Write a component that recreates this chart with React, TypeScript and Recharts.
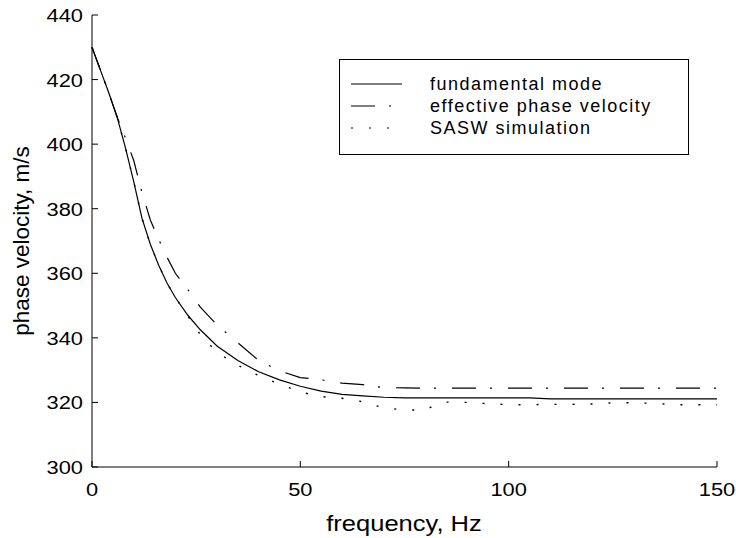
import React from 'react';
import { LineChart, Line, XAxis, YAxis, Legend } from 'recharts';

// frequency grid, Hz
const freq = [0, 2, 4, 6, 8, 10, 12, 14, 16, 18, 20, 23, 26, 30, 35, 40, 45, 50, 55, 60, 65, 70, 75, 80, 82, 85, 90, 95, 100, 105, 110, 115, 120, 125, 130, 135, 140, 145, 150];

// phase velocity, m/s
const fundamentalMode = [430, 423, 416, 408.5, 399, 388.5, 377, 369, 362.5, 357, 352.5, 347, 342.5, 337.5, 333, 329.5, 327, 325, 323.5, 322.5, 322, 321.6, 321.4, 321.4, 321.4, 321.4, 321.4, 321.4, 321.4, 321.4, 321.1, 321.1, 321.1, 321.1, 321.1, 321.1, 321.1, 321.1, 321.1];
const effectiveVelocity = [430, 423, 416, 408.5, 402, 395, 385, 376.5, 370.5, 365, 360, 355, 349.5, 344, 338.5, 333, 329.8, 327.7, 327, 326, 325.5, 324.6, 324.5, 324.4, 324.4, 324.4, 324.4, 324.4, 324.4, 324.4, 324.4, 324.4, 324.4, 324.4, 324.4, 324.4, 324.4, 324.4, 324.4];
const saswSimulation = [430, 423, 416, 408.5, 399, 388.5, 377, 369, 362.5, 357, 352.5, 346.8, 341, 335.5, 331.5, 328.3, 325.7, 323.2, 321.8, 321.3, 320.2, 318.3, 317.7, 317.6, 319, 320.1, 320, 319.6, 319.3, 319.3, 319.4, 319.4, 319.5, 319.9, 319.9, 319.7, 319.3, 319.3, 319.3];

const seriesNames = ['fundamental mode', 'effective phase velocity', 'SASW simulation'];
const xTicks = [0, 50, 100, 150];
const yTicks = [300, 320, 340, 360, 380, 400, 420, 440];

const data = freq.map((f, i) => ({
  f,
  fund: fundamentalMode[i],
  eff: effectiveVelocity[i],
  sasw: saswSimulation[i],
}));

const FONT = 'Arial, "Liberation Sans", Helvetica, sans-serif';
const SX = 1.15; // text in the original is drawn a little wide
const DASH_DOT = '24 14 2 16';
const DOTTED = '2 16';

function BottomTick({ x, y, payload }: any) {
  return (
    <g>
      <line x1={x} y1={y} x2={x} y2={y - 6} stroke="#000" />
      <text transform={`translate(${x},${y + 29}) scale(${SX},1)`} textAnchor="middle" fontSize={19} fontFamily={FONT} fill="#000">
        {payload.value}
      </text>
    </g>
  );
}

function TopTick({ x, y }: any) {
  return <line x1={x} y1={y} x2={x} y2={y + 6} stroke="#000" />;
}

function LeftTick({ x, y, payload }: any) {
  return (
    <g>
      <line x1={x} y1={y} x2={x + 6} y2={y} stroke="#000" />
      <text transform={`translate(${x - 9},${y + 7}) scale(${SX},1)`} textAnchor="end" fontSize={19} fontFamily={FONT} fill="#000">
        {payload.value}
      </text>
    </g>
  );
}

function RightTick({ x, y }: any) {
  return <line x1={x} y1={y} x2={x - 6} y2={y} stroke="#000" />;
}

function LegendBox() {
  const dashes = [undefined, DASH_DOT, DOTTED];
  return (
    <div style={{ position: 'relative', width: 350, height: 96, border: '1px solid #000', background: '#fff', boxSizing: 'border-box' }}>
      {seriesNames.map((name, i) => (
        <div key={name} style={{ position: 'absolute', left: 0, top: 13 + i * 22, height: 22, width: 348 }}>
          <svg width={80} height={22} style={{ position: 'absolute', left: 0, top: 0 }}>
            <line x1={11} x2={62} y1={11} y2={11} stroke="#000" strokeWidth={1.2} strokeDasharray={dashes[i]} />
          </svg>
          <span
            style={{
              position: 'absolute',
              left: 90,
              top: 0,
              lineHeight: '22px',
              fontSize: 18,
              fontFamily: FONT,
              letterSpacing: 1.5,
              whiteSpace: 'nowrap',
            }}
          >
            {name}
          </span>
        </div>
      ))}
    </div>
  );
}

export default function App() {
  return (
    <div style={{ position: 'absolute', left: 0, top: 0, width: 736, height: 538, background: '#fff' }}>
      <LineChart width={736} height={538} data={data} margin={{ top: 15, right: 19, bottom: 0, left: 0 }}>
        <XAxis
          dataKey="f"
          type="number"
          domain={[0, 150]}
          ticks={xTicks}
          interval={0}
          height={71}
          tickSize={0}
          tickMargin={0}
          tickLine={false}
          axisLine={{ stroke: '#000' }}
          tick={<BottomTick />}
          label={() => (
            <text transform={`translate(404,531) scale(1.16,1)`} textAnchor="middle" fontSize={22} fontFamily={FONT} fill="#000">
              frequency, Hz
            </text>
          )}
        />
        <XAxis
          xAxisId="top"
          orientation="top"
          dataKey="f"
          type="number"
          domain={[0, 150]}
          ticks={xTicks}
          interval={0}
          height={0}
          tickSize={0}
          tickMargin={0}
          tickLine={false}
          axisLine={{ stroke: '#000' }}
          tick={<TopTick />}
        />
        <YAxis
          type="number"
          domain={[300, 440]}
          ticks={yTicks}
          interval={0}
          width={92}
          tickSize={0}
          tickMargin={0}
          tickLine={false}
          axisLine={{ stroke: '#000' }}
          tick={<LeftTick />}
          label={() => (
            <text transform="translate(29,241) rotate(-90)" textAnchor="middle" fontSize={22.5} fontFamily={FONT} fill="#000">
              phase velocity, m/s
            </text>
          )}
        />
        <YAxis
          yAxisId="right"
          orientation="right"
          type="number"
          domain={[300, 440]}
          ticks={yTicks}
          interval={0}
          width={0}
          tickSize={0}
          tickMargin={0}
          tickLine={false}
          axisLine={{ stroke: '#000' }}
          tick={<RightTick />}
        />
        <Legend
          layout="horizontal"
          verticalAlign="middle"
          align="center"
          content={() => <LegendBox />}
          wrapperStyle={{ left: 339, top: 59, width: 350, height: 96 }}
        />
        <Line name={seriesNames[0]} dataKey="fund" type="linear" stroke="#000" strokeWidth={1.2} dot={false} activeDot={false} isAnimationActive={false} />
        <Line name={seriesNames[1]} dataKey="eff" type="linear" stroke="#000" strokeWidth={1.2} strokeDasharray={DASH_DOT} dot={false} activeDot={false} isAnimationActive={false} />
        <Line name={seriesNames[2]} dataKey="sasw" type="linear" stroke="#000" strokeWidth={1.4} strokeDasharray={DOTTED} dot={false} activeDot={false} isAnimationActive={false} />
      </LineChart>
    </div>
  );
}
